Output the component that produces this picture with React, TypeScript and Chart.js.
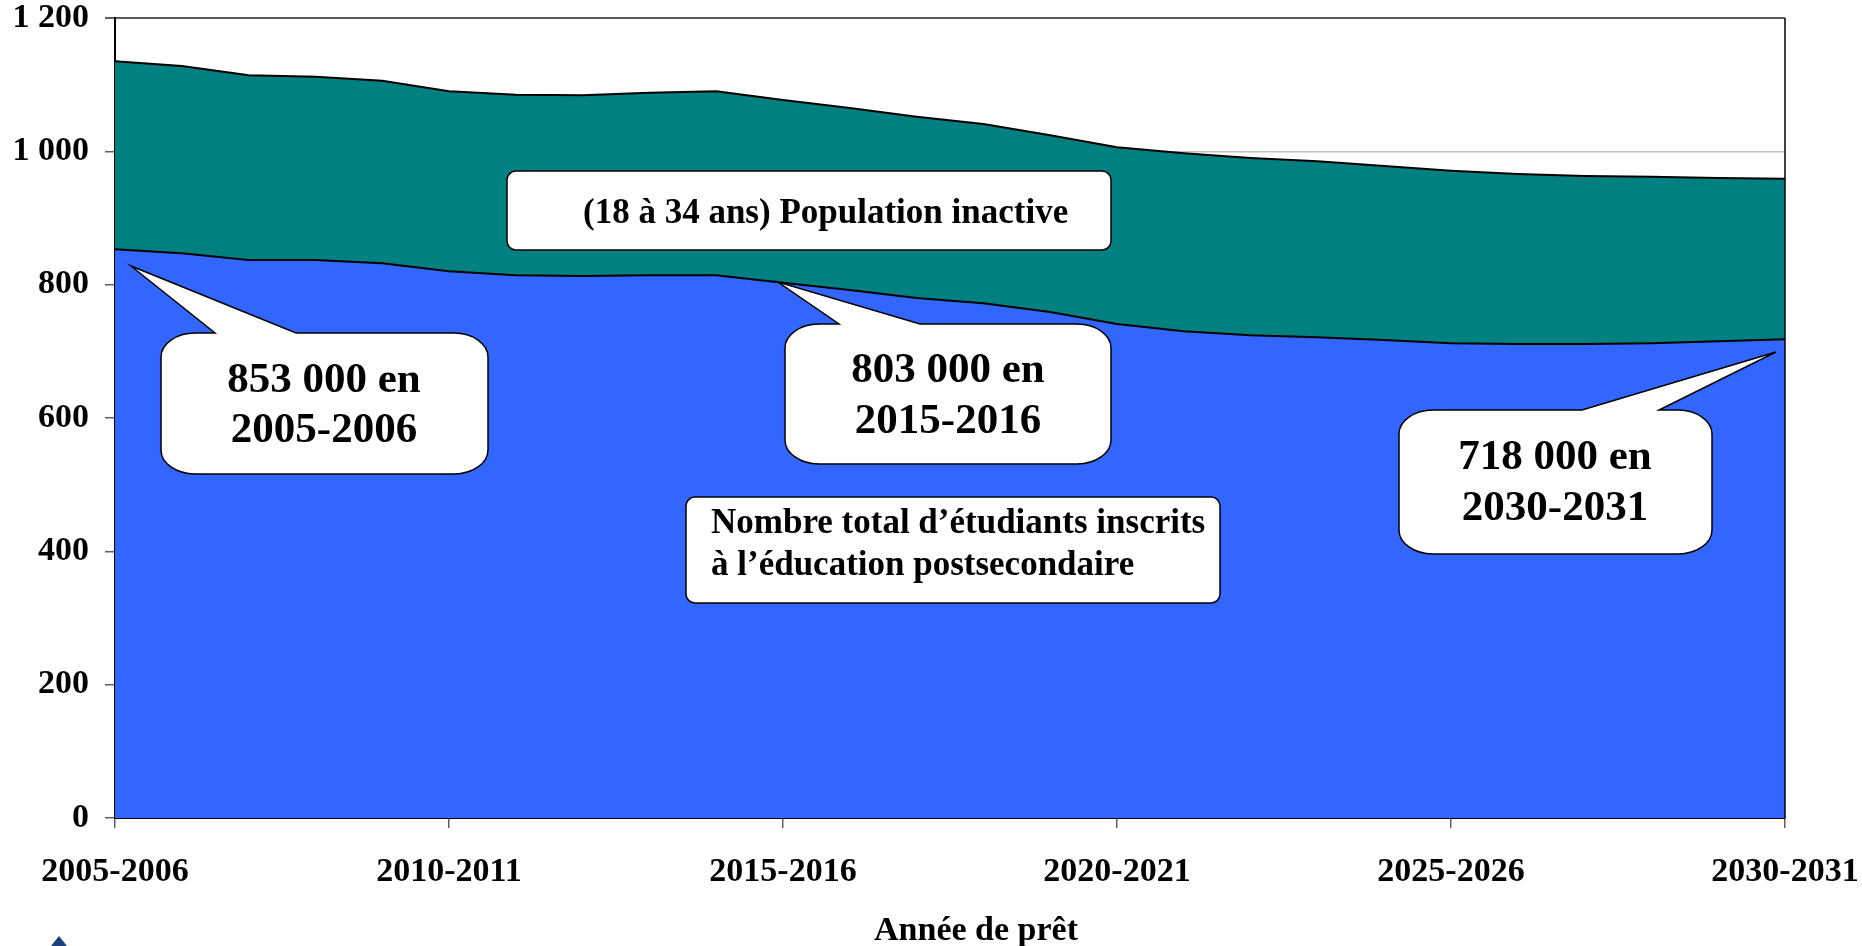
import React, { useEffect, useRef } from 'react';
import { Chart, registerables } from 'chart.js';

Chart.register(...registerables);

const years = [
  '2005-2006', '2006-2007', '2007-2008', '2008-2009', '2009-2010',
  '2010-2011', '2011-2012', '2012-2013', '2013-2014', '2014-2015',
  '2015-2016', '2016-2017', '2017-2018', '2018-2019', '2019-2020',
  '2020-2021', '2021-2022', '2022-2023', '2023-2024', '2024-2025',
  '2025-2026', '2026-2027', '2027-2028', '2028-2029', '2029-2030',
  '2030-2031',
];

// thousands of students enrolled in post-secondary education
const enrolled = [853, 847, 837, 837, 832, 820, 814, 813, 814, 814, 803, 792, 780, 772, 759, 741, 730, 724, 721, 717, 712, 711, 711, 712, 715, 718];
// thousands of inactive population aged 18-34 (stacked above)
const inactive = [282, 281, 277, 275, 274, 270, 271, 271, 274, 276, 274, 273, 272, 269, 265, 265, 267, 266, 264, 261, 259, 255, 252, 250, 245, 241];

const shownYears = ['2005-2006', '2010-2011', '2015-2016', '2020-2021', '2025-2026', '2030-2031'];
const yMax = 1200;
const yStep = 200;

const xTitle = 'Année de prêt';
const labelInactive = '(18 à 34 ans) Population inactive';
const labelEnrolled = ['Nombre total d\u2019étudiants inscrits', 'à l\u2019éducation postsecondaire'];
const calloutTexts = [
  ['853 000 en', '2005-2006'],
  ['803 000 en', '2015-2016'],
  ['718 000 en', '2030-2031'],
];

const FONT = "'Liberation Serif', 'Times New Roman', serif";

function fmt(v: number) {
  return String(v).replace(/\B(?=(\d{3})+(?!\d))/g, ' ');
}

function bubble(
  ctx: CanvasRenderingContext2D,
  l: number, t: number, r: number, b: number,
  b1: number, b2: number, tx: number, ty: number,
  rx: number, ry: number,
) {
  ctx.beginPath();
  ctx.moveTo(l + rx, t);
  ctx.lineTo(b1, t);
  ctx.lineTo(tx, ty);
  ctx.lineTo(b2, t);
  ctx.lineTo(r - rx, t);
  ctx.ellipse(r - rx, t + ry, rx, ry, 0, -Math.PI / 2, 0);
  ctx.lineTo(r, b - ry);
  ctx.ellipse(r - rx, b - ry, rx, ry, 0, 0, Math.PI / 2);
  ctx.lineTo(l + rx, b);
  ctx.ellipse(l + rx, b - ry, rx, ry, 0, Math.PI / 2, Math.PI);
  ctx.lineTo(l, t + ry);
  ctx.ellipse(l + rx, t + ry, rx, ry, 0, Math.PI, Math.PI * 1.5);
  ctx.closePath();
  ctx.fillStyle = '#ffffff';
  ctx.fill();
  ctx.lineWidth = 1.5;
  ctx.strokeStyle = '#000000';
  ctx.stroke();
}

function roundBox(ctx: CanvasRenderingContext2D, l: number, t: number, r: number, b: number, rad: number) {
  ctx.beginPath();
  ctx.roundRect(l, t, r - l, b - t, rad);
  ctx.fillStyle = '#ffffff';
  ctx.fill();
  ctx.lineWidth = 1.5;
  ctx.strokeStyle = '#000000';
  ctx.stroke();
}

const annotations = {
  id: 'annotations',
  afterDraw(chart: any) {
    const ctx: CanvasRenderingContext2D = chart.ctx;
    const area = chart.chartArea;
    ctx.save();

    // right frame border
    ctx.beginPath();
    ctx.moveTo(area.right, area.top);
    ctx.lineTo(area.right, area.bottom);
    ctx.lineWidth = 1.5;
    ctx.strokeStyle = '#000000';
    ctx.stroke();

    // label boxes
    roundBox(ctx, 507, 171, 1111, 250, 9);
    roundBox(ctx, 686, 497, 1220, 603, 9);

    ctx.fillStyle = '#000000';
    ctx.textBaseline = 'alphabetic';
    ctx.font = `bold 35px ${FONT}`;
    ctx.textAlign = 'left';
    ctx.fillText(labelInactive, 583, 223);
    ctx.fillText(labelEnrolled[0], 711, 533);
    ctx.fillText(labelEnrolled[1], 711, 575);

    // callouts
    bubble(ctx, 161, 333, 488, 474, 215, 296, 131, 266, 34, 24);
    bubble(ctx, 785, 324, 1111, 464, 839, 920, 778, 282, 34, 24);
    bubble(ctx, 1399, 410, 1712, 554, 1582, 1659, 1776, 352, 34, 24);

    ctx.fillStyle = '#000000';
    ctx.font = `bold 43px ${FONT}`;
    ctx.textAlign = 'center';
    ctx.fillText(calloutTexts[0][0], 324, 392);
    ctx.fillText(calloutTexts[0][1], 324, 442);
    ctx.fillText(calloutTexts[1][0], 948, 382);
    ctx.fillText(calloutTexts[1][1], 948, 433);
    ctx.fillText(calloutTexts[2][0], 1555, 469);
    ctx.fillText(calloutTexts[2][1], 1555, 520);

    // axis title
    ctx.font = `bold 34px ${FONT}`;
    ctx.textAlign = 'center';
    ctx.fillText(xTitle, 976, 940);

    // tiny logo fragment at bottom-left
    ctx.beginPath();
    ctx.moveTo(51, 946);
    ctx.lineTo(59, 936);
    ctx.lineTo(67, 946);
    ctx.closePath();
    ctx.fillStyle = '#1d3f7c';
    ctx.fill();

    ctx.restore();
  },
};

export default function App() {
  const ref = useRef<HTMLCanvasElement | null>(null);

  useEffect(() => {
    document.body.style.margin = '0';
    if (!ref.current) return;
    const chart = new Chart(ref.current, {
      type: 'line',
      data: {
        labels: years,
        datasets: [
          {
            label: 'Nombre total d\u2019étudiants inscrits',
            data: enrolled,
            backgroundColor: '#3366ff',
            borderColor: '#000000',
            borderWidth: 2,
            fill: 'origin',
            pointRadius: 0,
            tension: 0,
          },
          {
            label: 'Population inactive',
            data: inactive,
            backgroundColor: '#008080',
            borderColor: '#000000',
            borderWidth: 2,
            fill: '-1',
            pointRadius: 0,
            tension: 0,
          },
        ],
      },
      options: {
        responsive: false,
        animation: false,
        events: [],
        layout: { padding: { top: 18, right: 77, left: 0, bottom: 0 } },
        plugins: {
          legend: { display: false },
          tooltip: { enabled: false },
          title: { display: false },
        },
        scales: {
          x: {
            type: 'category',
            offset: false,
            grid: {
              drawOnChartArea: false,
              tickLength: 10,
              color: '#606060',
              tickColor: '#606060',
              lineWidth: 1.5,
            },
            border: { color: '#000000', width: 2 },
            ticks: {
              autoSkip: false,
              maxRotation: 0,
              padding: 24,
              color: '#000000',
              font: { family: FONT, size: 34, weight: 'bold' },
              callback: function (this: any, value: any) {
                const lab = this.getLabelForValue(value);
                return shownYears.includes(lab) ? lab : null;
              },
            },
            afterFit: (scale: any) => {
              scale.height = 128;
              scale.paddingLeft = 0;
              scale.paddingRight = 0;
            },
          },
          y: {
            stacked: true,
            min: 0,
            max: yMax,
            grid: {
              tickLength: 10,
              color: (c: any) => (c.tick && c.tick.value === yMax ? '#5a5a5a' : '#c0c0c0'),
              tickColor: '#606060',
              lineWidth: (c: any) => (c.tick && c.tick.value === yMax ? 2 : 1.5),
            },
            border: { color: '#000000', width: 2 },
            ticks: {
              stepSize: yStep,
              padding: 16,
              color: '#000000',
              font: { family: FONT, size: 34, weight: 'bold', lineHeight: 1 },
              callback: (v: any) => fmt(Number(v)),
            },
            afterFit: (scale: any) => {
              scale.width = 115;
              scale.paddingTop = 0;
              scale.paddingBottom = 0;
            },
          },
        },
      },
      plugins: [annotations],
    });
    return () => chart.destroy();
  }, []);

  return (
    <div style={{ width: 1862, height: 946, position: 'relative' }}>
      <canvas ref={ref} width={1862} height={946} />
    </div>
  );
}
